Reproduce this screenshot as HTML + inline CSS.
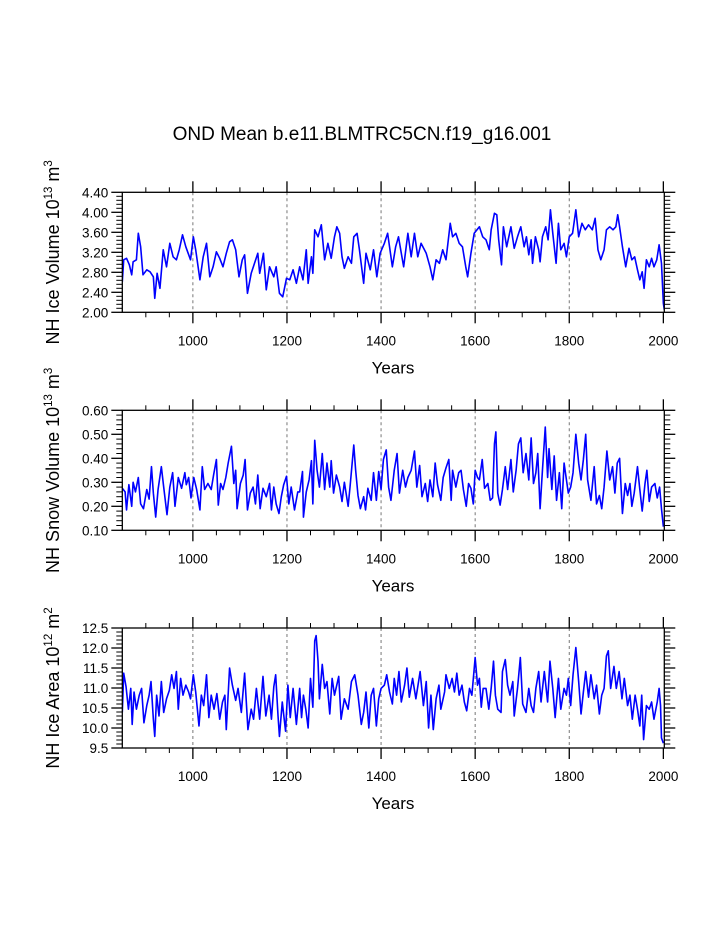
<!DOCTYPE html>
<html><head><meta charset="utf-8">
<style>
html,body{margin:0;padding:0;background:#fff;}
svg{display:block;font-family:"Liberation Sans",Arial,sans-serif;}
</style></head>
<body>
<svg id="chart" width="723" height="935" viewBox="0 0 723 935">
<text x="362" y="140" text-anchor="middle" font-size="19">OND Mean b.e11.BLMTRC5CN.f19_g16.001</text>
</svg>
<script>
// ---- Panel 1: NH ice volume ----
const iceVolYears = [850,853,859,865,870,873,880,884,889,894,902,909,916,919,924,930,937,944,951,958,965,971,978,985,990,995,1001,1006,1015,1022,1029,1036,1043,1050,1057,1064,1071,1078,1084,1091,1098,1105,1110,1116,1124,1131,1138,1142,1150,1156,1163,1172,1177,1184,1191,1199,1206,1213,1220,
1227,1234,1241,1245,1252,1255,1259,1266,1273,1280,1287,1294,1301,1306,1312,1317,1322,1330,1337,1342,1349,1354,1363,1368,1377,1384,1391,1398,1407,1414,1424,1431,1437,1443,1448,1457,1464,1471,1478,1485,1496,1504,1510,1517,1524,1531,1538,1547,1552,1559,1566,1573,1580,1584,1591,1598,
1609,1616,1623,1630,1634,1641,1646,1650,1656,1660,1667,1676,1683,1690,1697,1704,1709,1714,1719,1722,1728,1735,1738,1743,1750,1755,1760,1765,1772,1777,1782,1789,1794,1800,1807,1814,1820,1827,1834,1841,1849,1855,1861,1867,1874,1879,1886,1893,1899,1903,1907,1913,1920,1927,1933,1939,1945,1950,1955,1959,1964,1970,1975,1980,1986,1991,1996,2000,2002];
const iceVolValues = [2.61,3.05,3.08,2.95,2.75,3.01,3.05,3.58,3.31,2.75,2.85,2.81,2.71,2.28,2.78,2.48,3.25,2.91,3.38,3.11,3.05,3.25,3.55,3.31,3.18,3.05,3.51,3.25,2.65,3.11,3.38,2.71,2.91,3.21,3.08,2.91,3.18,3.41,3.45,3.25,2.71,3.05,3.15,2.38,2.78,2.98,3.18,2.78,3.18,2.45,2.91,2.71,2.91,2.38,2.31,2.68,2.65,2.85,2.58,
2.91,2.65,3.25,2.58,3.11,2.78,3.65,3.51,3.75,3.05,3.38,3.08,3.51,3.71,3.58,3.11,2.88,3.11,2.98,3.51,3.58,3.25,2.58,3.18,2.85,3.25,2.71,3.18,3.38,3.58,2.91,3.31,3.51,3.18,2.91,3.58,3.11,3.58,3.11,3.38,3.18,2.91,2.65,3.05,2.98,3.25,3.05,3.78,3.51,3.58,3.38,3.31,2.91,2.71,3.18,3.58,
3.71,3.51,3.45,3.25,3.65,3.98,3.95,3.45,2.95,3.71,3.31,3.71,3.28,3.51,3.71,3.31,3.51,3.15,3.45,2.98,3.51,3.25,3.01,3.51,3.71,3.45,4.05,3.58,2.98,3.78,3.25,3.38,3.11,3.51,3.58,4.05,3.51,3.78,3.65,3.75,3.65,3.88,3.25,3.05,3.25,3.65,3.71,3.65,3.71,3.95,3.71,3.31,2.91,3.28,3.05,3.11,2.85,2.65,2.81,2.48,3.05,2.91,3.08,2.91,3.05,3.35,2.98,2.18,2.05];
const iceVolTicks = ["2.00","2.40","2.80","3.20","3.60","4.00","4.40"];

// ---- Panel 2: NH snow volume ----
const snowYears = [850,856,859,864,870,873,878,884,889,895,902,907,912,916,921,926,933,938,945,951,957,962,969,976,983,986,991,996,1002,1008,1015,1020,1025,1032,1039,1044,1050,1054,1059,1064,1070,1075,1082,1087,1091,1094,1101,1107,1111,1116,1122,1128,1133,1138,1143,1149,1156,1163,1167,1172,1177,1183,1188,1193,1199,1204,1209,1216,1223,
1227,1233,1235,1241,1247,1252,1255,1259,1264,1269,1275,1280,1285,1291,1294,1299,1305,1312,1317,1322,1330,1334,1342,1346,1351,1356,1363,1367,1372,1379,1384,1390,1395,1400,1405,1411,1416,1421,1428,1434,1439,1446,1452,1457,1464,1471,1476,1482,1487,1494,1499,1504,1510,1515,1520,1527,1532,1538,1544,1549,1552,1559,1565,1570,1575,1581,1586,1591,1596,1600,1605,
1609,1615,1620,1627,1632,1637,1641,1644,1648,1653,1658,1664,1669,1676,1681,1687,1692,1697,1702,1708,1714,1719,1724,1729,1733,1738,1743,1749,1754,1757,1763,1768,1773,1779,1784,1789,1794,1798,1803,1808,1814,1820,1825,1830,1835,1839,1846,1853,1858,1864,1869,1874,1880,1886,1892,1897,1902,1907,1913,1919,1924,1929,1933,1938,1945,1950,1955,1961,1965,1970,1975,1982,1987,1992,1996,2000];
const snowValues = [.275,.26,.185,.29,.20,.30,.26,.32,.21,.19,.27,.23,.365,.255,.155,.27,.365,.28,.165,.28,.34,.20,.32,.275,.34,.29,.32,.235,.32,.27,.185,.365,.27,.295,.27,.33,.395,.205,.295,.27,.32,.38,.45,.295,.35,.19,.295,.33,.395,.185,.255,.28,.21,.33,.19,.275,.24,.295,.185,.28,.21,.17,.24,.29,.325,.21,.28,.185,.26,
.26,.345,.155,.26,.31,.39,.21,.475,.35,.28,.42,.27,.38,.28,.39,.255,.33,.28,.22,.30,.20,.28,.455,.35,.245,.19,.24,.185,.275,.225,.34,.225,.345,.27,.395,.435,.28,.225,.35,.42,.255,.35,.28,.32,.35,.43,.28,.37,.24,.295,.22,.31,.24,.38,.29,.225,.32,.36,.395,.225,.35,.28,.34,.35,.27,.20,.295,.275,.21,.35,.32,
.31,.395,.275,.295,.225,.235,.46,.51,.255,.205,.27,.365,.27,.395,.26,.35,.46,.485,.34,.42,.31,.485,.295,.34,.42,.19,.35,.53,.32,.44,.27,.41,.225,.34,.19,.38,.31,.255,.28,.34,.50,.38,.31,.395,.50,.31,.225,.365,.21,.245,.19,.28,.43,.31,.365,.255,.38,.40,.17,.295,.245,.295,.20,.255,.365,.27,.18,.295,.35,.22,.28,.295,.235,.28,.19,.115];
const snowTicks = ["0.10","0.20","0.30","0.40","0.50","0.60"];

// ---- Panel 3: NH ice area ----
const areaYears = [850,853,858,863,868,871,875,880,886,891,896,902,907,911,916,919,923,928,933,938,944,950,955,960,965,969,974,979,985,991,995,1001,1006,1013,1018,1023,1029,1034,1039,1045,1051,1057,1063,1068,1071,1078,1084,1091,1096,1103,1110,1117,1124,1129,1135,1142,1149,1155,1162,1167,1172,1176,1181,1184,1190,1197,1202,1207,1213,1220,
1227,1231,1235,1240,1245,1250,1255,1259,1262,1266,1269,1275,1280,1285,1291,1296,1301,1310,1315,1322,1330,1337,1344,1351,1358,1363,1368,1374,1379,1384,1390,1395,1400,1407,1412,1418,1424,1428,1433,1438,1443,1450,1455,1460,1467,1474,1483,1490,1496,1501,1506,1511,1517,1523,1527,1535,1538,1545,1551,1556,1561,1566,1572,1577,1582,1588,1593,1600,1605,
1609,1613,1617,1623,1629,1634,1639,1643,1648,1655,1658,1664,1669,1674,1680,1683,1690,1696,1701,1708,1714,1719,1724,1729,1735,1740,1747,1754,1759,1765,1770,1777,1782,1789,1794,1798,1803,1808,1814,1820,1825,1830,1835,1841,1846,1853,1858,1864,1869,1874,1879,1883,1888,1895,1900,1906,1912,1917,1924,1929,1934,1940,1945,1950,1954,1958,1964,1970,1975,1980,1987,1991,1994,1996,2000];
const areaValues = [10.39,11.37,11.03,10.47,10.99,10.09,10.90,10.47,10.82,10.99,10.13,10.56,10.82,11.16,10.22,9.79,10.82,10.30,11.16,10.39,10.73,10.94,11.33,10.99,11.41,10.47,11.24,10.82,11.07,10.90,10.73,11.33,10.90,10.05,10.82,10.56,11.33,10.26,10.82,10.47,10.86,10.22,10.65,10.82,9.96,11.50,11.07,10.69,10.99,10.39,11.37,9.96,10.47,10.22,10.99,10.22,11.29,10.30,10.82,10.22,11.03,11.33,10.30,9.79,10.65,9.92,11.07,10.26,10.99,10.09,
10.99,10.26,10.82,10.47,10.00,11.24,10.52,12.18,12.31,11.67,10.73,11.59,10.99,11.16,10.35,11.24,10.82,11.29,10.22,10.73,10.47,11.16,11.33,10.82,10.09,10.39,10.90,10.00,10.82,10.99,10.05,10.73,10.99,11.07,11.33,10.90,10.60,11.24,10.82,11.41,10.65,11.07,11.50,10.77,11.24,10.73,11.41,10.56,11.16,10.00,10.82,9.96,10.73,11.07,10.47,10.90,11.33,10.99,11.24,10.90,11.37,10.82,11.07,10.65,10.43,10.99,10.82,11.76,11.07,
11.24,10.52,10.99,10.99,10.47,10.99,11.67,10.82,10.47,10.39,11.41,11.71,11.07,10.82,11.16,10.30,10.99,11.76,10.60,10.39,10.99,10.56,10.39,10.99,11.41,10.65,11.41,10.65,11.67,10.99,10.26,11.24,10.47,10.99,10.82,11.24,10.56,11.33,12.01,11.16,10.35,10.90,11.41,10.77,11.33,10.73,11.07,10.35,10.82,10.99,11.80,11.93,10.99,11.54,10.99,11.41,10.73,11.24,10.56,10.82,10.22,10.82,10.47,10.05,10.82,9.71,10.56,10.47,10.65,10.22,10.65,10.99,10.56,9.75,9.62];
const areaTicks = ["9.5","10.0","10.5","11.0","11.5","12.0","12.5"];

const xTickYears = [1000,1200,1400,1600,1800,2000];

const NS = "http://www.w3.org/2000/svg";
const svg = document.getElementById("chart");
function mk(tag, attrs, parent) {
  const e = document.createElementNS(NS, tag);
  for (const k in attrs) e.setAttribute(k, attrs[k]);
  (parent || svg).appendChild(e);
  return e;
}
const X0 = 122.3, X1 = 664.3, YR0 = 850, YR1 = 2002;
function xScale(yr) { return X0 + (yr - YR0) * (X1 - X0) / (YR1 - YR0); }

function panel(cfg) {
  const g = mk("g", {});
  
  
  const top = cfg.top, bot = cfg.bot;
  const vmin = parseFloat(cfg.ticks[0]), vmax = parseFloat(cfg.ticks[cfg.ticks.length - 1]);
  const yScale = v => bot - (v - vmin) * (bot - top) / (vmax - vmin);
  const clipId = cfg.name + "-clip";
  const cp = mk("clipPath", { id: clipId }, g);
  mk("rect", { x: X0, y: top, width: X1 - X0, height: bot - top }, cp);
  xTickYears.forEach(yr => {
    if (yr >= 2000) return;
    const l = mk("line", { x1: xScale(yr), x2: xScale(yr), y1: top, y2: bot, stroke: "#777", "stroke-width": 1, "stroke-dasharray": "3,3" }, g);
    
    
  });
  let d = "";
  const n = Math.min(cfg.years.length, cfg.values.length);
  for (let i = 0; i < n; i++) d += (i ? "L" : "M") + xScale(cfg.years[i]).toFixed(2) + "," + yScale(cfg.values[i]).toFixed(2);
  const p = mk("path", { d: d, fill: "none", stroke: "#0000ff", "stroke-width": 1.6, "stroke-linejoin": "round", "clip-path": "url(#" + clipId + ")" }, g);
  
  
  const fr = mk("rect", { x: X0, y: top, width: X1 - X0, height: bot - top, fill: "none", stroke: "#000", "stroke-width": 1.3 }, g);
  
  
  for (let yr = 900; yr <= 2000; yr += 50) {
    const major = yr % 200 === 0;
    const len = major ? 11 : 5, x = xScale(yr);
    mk("line", { x1: x, x2: x, y1: bot, y2: bot + len, stroke: "#000", "stroke-width": major ? 1.3 : 1 }, g);
    mk("line", { x1: x, x2: x, y1: top, y2: top - len, stroke: "#000", "stroke-width": major ? 1.3 : 1 }, g);
  }
  xTickYears.forEach(yr => {
    const t = mk("text", { x: xScale(yr), y: bot + 33, "text-anchor": "middle", "font-size": 13.5 }, g);
    t.textContent = yr;
    
    
  });
  const xt = mk("text", { x: 393, y: bot + 61, "text-anchor": "middle", "font-size": 17 }, g);
  xt.textContent = "Years";
  
  
  const nt = cfg.ticks.length;
  for (let i = 0; i < nt; i++) {
    const v = parseFloat(cfg.ticks[i]), y = yScale(v);
    mk("line", { x1: X0, x2: X0 - 11, y1: y, y2: y, stroke: "#000", "stroke-width": 1.3 }, g);
    mk("line", { x1: X1, x2: X1 + 11, y1: y, y2: y, stroke: "#000", "stroke-width": 1.3 }, g);
    const t = mk("text", { x: X0 - 14, y: y + 5, "text-anchor": "end", "font-size": 13.5 }, g);
    t.textContent = cfg.ticks[i];
    
    
    if (i < nt - 1) {
      const step = (parseFloat(cfg.ticks[i + 1]) - v) / cfg.minor;
      for (let k = 1; k < cfg.minor; k++) {
        const ym = yScale(v + k * step);
        mk("line", { x1: X0, x2: X0 - 6, y1: ym, y2: ym, stroke: "#000", "stroke-width": 1 }, g);
        mk("line", { x1: X1, x2: X1 + 6, y1: ym, y2: ym, stroke: "#000", "stroke-width": 1 }, g);
      }
    }
  }
  const cy = (top + bot) / 2;
  const yt = mk("text", { x: 0, y: 0, "text-anchor": "middle", "font-size": 18, transform: "translate(59," + cy + ") rotate(-90)" }, g);
  yt.innerHTML = cfg.label + ' 10<tspan font-size="11.5" dy="-7">' + cfg.exp + '</tspan><tspan dy="7"> m</tspan><tspan font-size="11.5" dy="-7">' + cfg.unitExp + '</tspan>';
  
  
}

panel({ name: "ice-volume-panel", top: 192.3, bot: 312.3, years: iceVolYears, values: iceVolValues, ticks: iceVolTicks, minor: 5, label: "NH Ice Volume", exp: "13", unitExp: "3" });
panel({ name: "snow-volume-panel", top: 410.3, bot: 530.3, years: snowYears, values: snowValues, ticks: snowTicks, minor: 5, label: "NH Snow Volume", exp: "13", unitExp: "3" });
panel({ name: "ice-area-panel", top: 628, bot: 748, years: areaYears, values: areaValues, ticks: areaTicks, minor: 5, label: "NH Ice Area", exp: "12", unitExp: "2" });
</script>
</body></html>
